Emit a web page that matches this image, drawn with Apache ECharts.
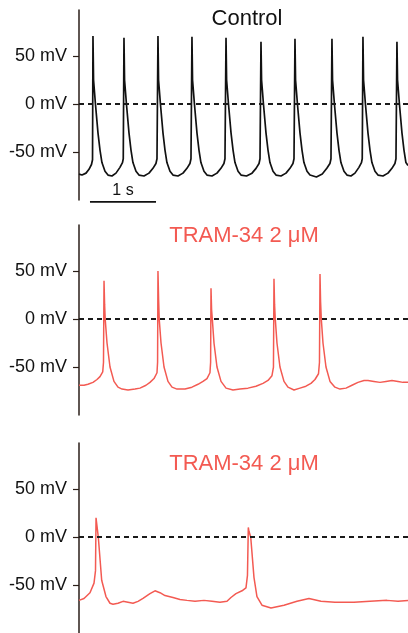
<!DOCTYPE html>
<html>
<head>
<meta charset="utf-8">
<script src="https://cdn.jsdelivr.net/npm/echarts@6/dist/echarts.min.js"></script>
<style>
  html, body { margin: 0; padding: 0; background: #fff; }
  #main { width: 408px; height: 633px; }
</style>
</head>
<body>
<div id="main"></div>
<script>
// time in seconds, membrane potential in mV
var controlTrace = [
  [0.000,-73],[0.046,-74],[0.108,-72],[0.154,-68],[0.192,-63],[0.208,-58],
  [0.215,71],[0.224,25],[0.253,0],[0.292,-30],[0.323,-48],[0.353,-61],[0.400,-70],[0.446,-74],[0.507,-75],[0.569,-72],[0.630,-66],[0.669,-61],[0.681,-57],
  [0.692,69],[0.701,25],[0.730,0],[0.769,-30],[0.800,-48],[0.830,-61],[0.877,-70],[0.923,-74],[1.000,-75],[1.077,-72],[1.138,-67],[1.184,-62],[1.200,-57],
  [1.215,71],[1.224,25],[1.253,0],[1.292,-30],[1.323,-48],[1.353,-61],[1.400,-70],[1.446,-74],[1.523,-75],[1.600,-72],[1.661,-67],[1.707,-62],[1.723,-57],
  [1.738,70],[1.747,25],[1.776,0],[1.815,-30],[1.846,-48],[1.876,-61],[1.923,-70],[1.969,-74],[2.046,-75],[2.123,-72],[2.184,-67],[2.230,-62],[2.246,-57],
  [2.262,69],[2.271,25],[2.300,0],[2.339,-30],[2.370,-48],[2.400,-61],[2.447,-70],[2.493,-74],[2.577,-75],[2.662,-72],[2.724,-67],[2.770,-62],[2.785,-57],
  [2.800,65],[2.809,25],[2.838,0],[2.877,-30],[2.908,-48],[2.938,-61],[2.985,-70],[3.031,-74],[3.108,-75],[3.185,-72],[3.246,-67],[3.292,-62],[3.308,-57],
  [3.323,68],[3.332,25],[3.361,0],[3.400,-30],[3.431,-48],[3.461,-61],[3.508,-70],[3.554,-74],[3.653,-76],[3.743,-73],[3.813,-67],[3.861,-62],[3.877,-57],
  [3.892,68],[3.901,25],[3.930,0],[3.969,-30],[4.000,-48],[4.030,-61],[4.077,-70],[4.123,-74],[4.184,-75],[4.246,-72],[4.307,-66],[4.346,-61],[4.358,-57],
  [4.369,70],[4.378,25],[4.407,0],[4.446,-30],[4.477,-48],[4.507,-61],[4.554,-70],[4.600,-74],[4.677,-75],[4.754,-72],[4.815,-67],[4.861,-62],[4.877,-57],
  [4.892,65],[4.901,25],[4.930,0],[4.969,-30],[5.000,-48],[5.030,-61],[5.062,-64]
];

var tramTraceA = [
  [0.000,-69],[0.077,-69],[0.138,-68],[0.215,-66],[0.277,-63],[0.323,-60],[0.365,-55],[0.377,-45],
  [0.385,40],[0.394,15],[0.403,0],[0.431,-25],[0.477,-50],[0.538,-65],[0.600,-71],[0.662,-73],[0.754,-74],[0.862,-73],[0.938,-72],[1.031,-69],[1.092,-66],[1.154,-62],[1.200,-56],[1.209,-45],
  [1.215,50],[1.225,20],[1.234,0],[1.262,-25],[1.308,-50],[1.369,-65],[1.431,-71],[1.508,-73],[1.631,-73],[1.738,-71],[1.831,-68],[1.908,-65],[1.969,-62],[2.015,-56],[2.025,-45],
  [2.031,32],[2.040,10],[2.051,0],[2.077,-25],[2.123,-50],[2.185,-65],[2.262,-72],[2.369,-74],[2.477,-73],[2.600,-72],[2.723,-70],[2.831,-67],[2.908,-64],[2.969,-59],[2.992,-50],
  [3.000,42],[3.009,15],[3.020,0],[3.046,-25],[3.092,-50],[3.154,-65],[3.215,-71],[3.308,-74],[3.400,-72],[3.492,-70],[3.569,-67],[3.631,-63],[3.685,-57],[3.700,-45],
  [3.708,47],[3.717,18],[3.728,0],[3.754,-25],[3.800,-50],[3.862,-65],[3.938,-71],[4.015,-73],[4.108,-72],[4.200,-69],[4.292,-66],[4.385,-64],[4.446,-64],[4.538,-65],[4.631,-66],[4.723,-65],[4.815,-64],[4.908,-65],[4.985,-66],[5.062,-66]
];

var tramTraceB = [
  [0.000,-66],[0.077,-64],[0.169,-58],[0.231,-48],[0.254,-35],
  [0.262,20],[0.297,0],[0.349,-45],[0.415,-62],[0.477,-69],[0.523,-70],[0.600,-69],[0.677,-67],[0.754,-68],[0.831,-69],[0.908,-67],[0.985,-64],[1.092,-59],[1.169,-56],[1.246,-58],[1.323,-61],[1.446,-63],[1.554,-65],[1.662,-66],[1.785,-67],[1.923,-66],[2.046,-67],[2.169,-68],[2.277,-67],[2.338,-63],[2.415,-59],[2.508,-56],[2.569,-53],[2.592,-40],
  [2.605,10],[2.615,6],[2.642,0],[2.692,-42],[2.738,-62],[2.815,-71],[2.954,-74],[3.154,-71],[3.354,-67],[3.538,-64],[3.723,-67],[3.938,-68],[4.231,-68],[4.477,-67],[4.738,-66],[4.908,-67],[5.062,-66]
];

var panelTitles = ['Control', 'TRAM-34 2 \u03bcM', 'TRAM-34 2 \u03bcM'];
var tickValues = [-50, 0, 50];
var scaleBar = [[0.169,-102],[1.185,-102]];
var scaleBarLabel = [[0.677,-102]];

var chart = echarts.init(document.getElementById('main'));
var font = 'Liberation Sans, Arial, sans-serif';
var axisColor = '#2a1e18';
var red = '#f35a52';
var tops = [10, 225, 443];
var traces = [controlTrace, tramTraceA, tramTraceB];
var traceColors = ['#111', red, red];
var traceWidths = [1.7, 1.5, 1.5];

var grids = [], xAxes = [], yAxes = [], series = [], graphics = [];
var titleY = [19, 236, 464];

tops.forEach(function (top, i) {
  grids.push({ left: 79, right: 0, top: top, height: 190 });
  xAxes.push({ type: 'value', gridIndex: i, min: 0, max: 5.062, show: false });
  yAxes.push({
    type: 'value', gridIndex: i, min: -100, max: 98, interval: 50,
    splitLine: { show: false },
    axisLine: { show: true, lineStyle: { color: axisColor, width: 1.5 } },
    axisTick: { show: true, length: 6, customValues: tickValues, lineStyle: { color: axisColor, width: 1.2 } },
    axisLabel: {
      customValues: tickValues, margin: 12, color: '#111', fontSize: 18, fontFamily: font,
      formatter: function (v) { return v + ' mV'; }
    }
  });
  series.push({
    type: 'line', xAxisIndex: i, yAxisIndex: i, data: traces[i],
    showSymbol: false, animation: false,
    lineStyle: { color: traceColors[i], width: traceWidths[i] },
    markLine: {
      silent: true, symbol: 'none', label: { show: false },
      lineStyle: { color: '#1a1a1a', type: [5, 4], width: 2 },
      data: [{ yAxis: 0 }]
    },
    z: 3
  });
  graphics.push({
    type: 'text', x: 247 - (i > 0 ? 3 : 0), y: titleY[i],
    style: {
      text: panelTitles[i], fill: i === 0 ? '#111' : red,
      font: '22px ' + font, textAlign: 'center', textVerticalAlign: 'middle'
    }
  });
});

series.push({
  type: 'line', xAxisIndex: 0, yAxisIndex: 0, data: scaleBar, clip: false,
  showSymbol: false, animation: false, lineStyle: { color: '#111', width: 1.6 }
});
series.push({
  type: 'scatter', xAxisIndex: 0, yAxisIndex: 0, data: scaleBarLabel, clip: false,
  symbolSize: 0, itemStyle: { color: '#111', opacity: 1 }, animation: false, silent: true,
  label: { show: true, position: 'top', distance: 3, formatter: '1 s', color: '#111', fontSize: 16, fontFamily: font }
});

chart.setOption({
  animation: false,
  grid: grids,
  xAxis: xAxes,
  yAxis: yAxes,
  series: series,
  graphic: graphics
});
</script>
</body>
</html>
